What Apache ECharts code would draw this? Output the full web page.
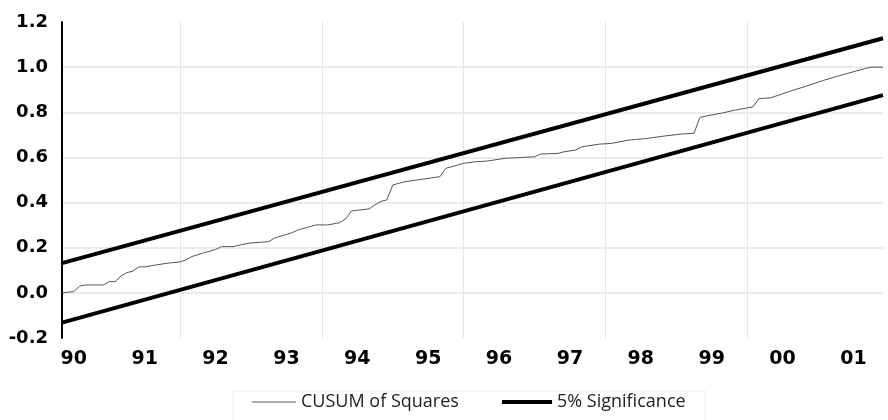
<!DOCTYPE html>
<html>
<head>
<meta charset="utf-8">
<script src="https://cdn.jsdelivr.net/npm/echarts@6/dist/echarts.min.js"></script>
<style>
html,body{margin:0;padding:0;background:#fff;}
#chart{width:888px;height:420px;}
</style>
</head>
<body>
<div id="chart"></div>
<script>
// Monthly categories 1990M05 .. 2001M12
var months = [];
(function(){
  for (var y = 1990; y <= 2001; y++) {
    for (var m = 1; m <= 12; m++) {
      if (y === 1990 && m < 5) continue;
      months.push(y + 'M' + (m < 10 ? '0' + m : m));
    }
  }
})();

var yearLabels = ['90','91','92','93','94','95','96','97','98','99','00','01'];
var yTicks = {min: -0.2, max: 1.2, interval: 0.2};

// CUSUM of Squares: [month index, value]
var cusumIdx = [0,2,3,4,7,8,9,10,11,12,13,14,16,18,20,21,22,24,26,27,29,31,32,35,36,39,40,43,45,47,48,49,52,53,54,55,56,57,58,60,62,64,65,66,68,70,72,75,78,80,81,84,85,87,88,91,93,96,99,102,105,107,108,109,112,114,117,118,120,123,126,129,132,136,137,139];
var cusumVal = [0.000,0.006,0.030,0.035,0.035,0.050,0.050,0.075,0.090,0.096,0.115,0.115,0.124,0.132,0.137,0.146,0.161,0.177,0.192,0.205,0.205,0.217,0.221,0.227,0.243,0.267,0.279,0.301,0.301,0.311,0.327,0.363,0.372,0.390,0.405,0.412,0.478,0.485,0.492,0.500,0.507,0.515,0.552,0.559,0.574,0.581,0.584,0.596,0.600,0.603,0.615,0.618,0.625,0.633,0.647,0.659,0.662,0.677,0.684,0.695,0.704,0.707,0.777,0.783,0.798,0.810,0.824,0.861,0.864,0.891,0.916,0.942,0.965,0.994,1.000,1.000];

// 5% significance bounds: start and end values
var upperEnds = [0.132, 1.128];
var lowerEnds = [-0.132, 0.876];

var cusumData = cusumIdx.map(function(i, k){ return [months[i], cusumVal[k]]; });
var last = months.length - 1;
var upperData = [[months[0], upperEnds[0]], [months[last], upperEnds[1]]];
var lowerData = [[months[0], lowerEnds[0]], [months[last], lowerEnds[1]]];

var chart = echarts.init(document.getElementById('chart'), null, {renderer: 'canvas'});
chart.setOption({
  animation: false,
  backgroundColor: '#ffffff',
  grid: {left: 62, right: 5, top: 22, bottom: 82, containLabel: false},
  xAxis: {
    type: 'category',
    data: months,
    boundaryGap: false,
    axisLine: {show: false},
    axisTick: {show: false},
    axisLabel: {
      interval: function (idx, val) { return val.slice(5) === '07'; },
      formatter: function (val) { return yearLabels[parseInt(val.slice(0,4),10) - 1990]; },
      fontFamily: 'DejaVu Sans',
      fontWeight: 'bold',
      fontSize: 19,
      color: '#000',
      margin: 12
    },
    splitLine: {
      show: true,
      interval: function (idx, val) { var y = parseInt(val.slice(0,4),10); return val.slice(5) === '01' && y % 2 === 0; },
      lineStyle: {color: '#e6e6e6', width: 1}
    }
  },
  yAxis: {
    type: 'value',
    min: yTicks.min,
    max: yTicks.max,
    interval: yTicks.interval,
    axisLine: {show: true, lineStyle: {color: '#000', width: 2}},
    axisTick: {show: false},
    axisLabel: {
      formatter: function (v) { return v.toFixed(1); },
      fontFamily: 'DejaVu Sans',
      fontWeight: 'bold',
      fontSize: 18,
      color: '#000',
      margin: 14
    },
    splitLine: {show: true, showMinLine: false, showMaxLine: false, lineStyle: {color: '#e4e4e4', width: 1.5}}
  },
  legend: [
    {
      data: ['CUSUM of Squares'],
      left: 247, top: 388,
      icon: 'rect', itemWidth: 44, itemHeight: 1,
      textStyle: {fontFamily: 'Open Sans', fontSize: 18, color: '#222'},
      itemStyle: {color: '#555'}
    },
    {
      data: ['5% Significance'],
      left: 497, top: 388,
      icon: 'rect', itemWidth: 50, itemHeight: 4,
      textStyle: {fontFamily: 'Open Sans', fontSize: 18, color: '#222'},
      itemStyle: {color: '#000'}
    }
  ],
  graphic: [{
    type: 'rect',
    shape: {x: 233, y: 391, width: 472, height: 30},
    style: {fill: 'none', stroke: '#ececec', lineWidth: 1},
    silent: true
  }],
  series: [
    {
      name: 'CUSUM of Squares',
      type: 'line',
      data: cusumData,
      symbol: 'none',
      lineStyle: {color: '#555', width: 1},
      itemStyle: {color: '#555'},
      z: 3
    },
    {
      name: '5% Significance',
      type: 'line',
      data: upperData,
      symbol: 'none',
      lineStyle: {color: '#000', width: 4},
      itemStyle: {color: '#000'},
      z: 4
    },
    {
      name: '5% Significance',
      type: 'line',
      data: lowerData,
      symbol: 'none',
      lineStyle: {color: '#000', width: 4},
      itemStyle: {color: '#000'},
      z: 4
    }
  ]
});
</script>
</body>
</html>
